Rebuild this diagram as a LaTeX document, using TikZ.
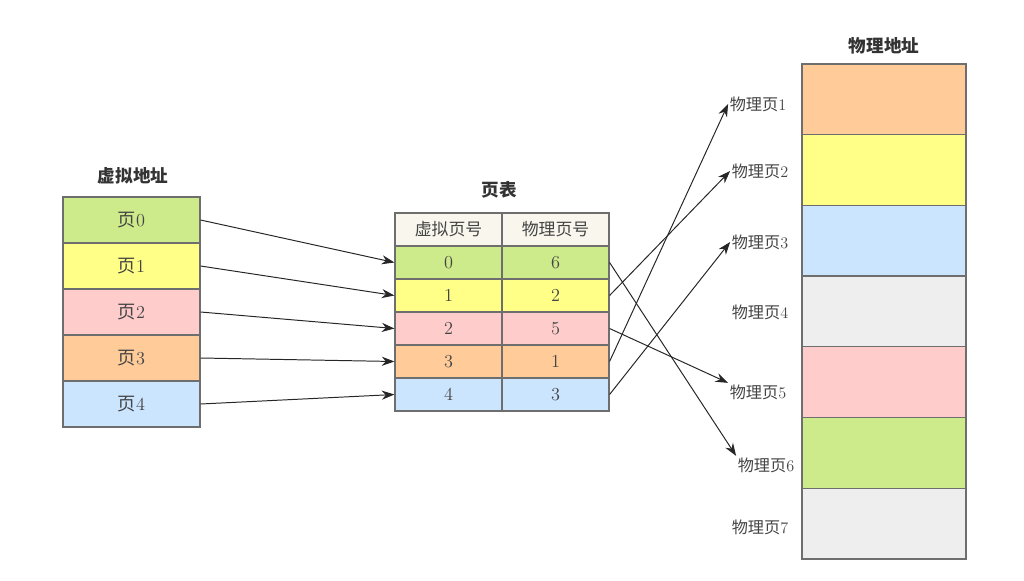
\documentclass[tikz,border=0pt]{standalone}
\usepackage{fontspec}
\newfontfamily\cjk{Noto Sans CJK SC}
\usetikzlibrary{arrows.meta}
\definecolor{pgreen}{HTML}{CDEB8B}
\definecolor{pyellow}{HTML}{FFFF88}
\definecolor{ppink}{HTML}{FFCCCC}
\definecolor{porange}{HTML}{FFCC99}
\definecolor{pblue}{HTML}{CCE5FF}
\definecolor{pgrey}{HTML}{EEEEEE}
\definecolor{phead}{HTML}{F9F7ED}
\definecolor{lineg}{HTML}{6E6E6E}
\definecolor{textg}{HTML}{444444}

\begin{document}
\begin{tikzpicture}[x=0.025cm, y=-0.025cm,
    cell/.style={draw=lineg, line width=0.8pt, inner sep=0pt, text=textg,
        font=\fontsize{13}{15}\selectfont},
    vbox/.style={cell, minimum width=3.425cm, minimum height=1.15cm},
    tbox/.style={cell, minimum width=2.675cm, minimum height=0.825cm},
    mbox/.style={cell, minimum width=4.1cm, minimum height=1.77cm},
    title/.style={text=black!80, font=\cjk\bfseries\fontsize{12.5}{15}\selectfont},
    plabel/.style={inner sep=1pt, text=textg, font=\fontsize{11.5}{13}\selectfont},
    link/.style={-{Stealth[length=9pt,width=6.5pt]}, line width=0.7pt, black!85}]
    \useasboundingbox (0,0) rectangle (1024,580);

    % virtual address
    \node[title] (vtitle) at (133,176) {虚拟地址};
    \foreach \i/\c in {0/pgreen,1/pyellow,2/ppink,3/porange,4/pblue}
        \node[vbox, fill=\c] (v\i) at (131.5,{220+46*\i}) {{\cjk 页}\i};

    % page table
    \node[title] (ttitle) at (499,190) {页表};
    \node[tbox, fill=phead, font=\cjk\fontsize{12}{14}\selectfont] (th) at (448.5,229.5) {虚拟页号};
    \node[tbox, fill=phead, font=\cjk\fontsize{12}{14}\selectfont] (ph) at (555.5,229.5) {物理页号};
    \foreach \i/\p/\c in {0/6/pgreen,1/2/pyellow,2/5/ppink,3/1/porange,4/3/pblue} {
        \node[tbox, fill=\c] (t\i) at (448.5,{262.5+33*\i}) {\i};
        \node[tbox, fill=\c] (p\i) at (555.5,{262.5+33*\i}) {\p};
    }

    % physical address
    \node[title] (mtitle) at (884,46) {物理地址};
    \foreach \k/\c in {1/porange,2/pyellow,3/pblue,4/pgrey,5/ppink,6/pgreen,7/pgrey}
        \node[mbox, fill=\c] (m\k) at (884,{64+70.7*(\k-0.5)}) {};
    \foreach \k/\x/\y in {1/758/104,2/760/171,3/760/242,4/760/312,5/758/392,6/766/465,7/760/527}
        \node[plabel] (l\k) at (\x,\y) {{\cjk 物理页}\k};

    % links
    \foreach \i in {0,...,4}
        \draw[link] (v\i.east) -- (t\i.west);
    \draw[link] (p0.east) -- (l6.north west);
    \draw[link] (p1.east) -- (l2.west);
    \draw[link] (p2.east) -- (l5.north west);
    \draw[link] (p3.east) -- (l1.west);
    \draw[link] (p4.east) -- (l3.west);
\end{tikzpicture}
\end{document}
